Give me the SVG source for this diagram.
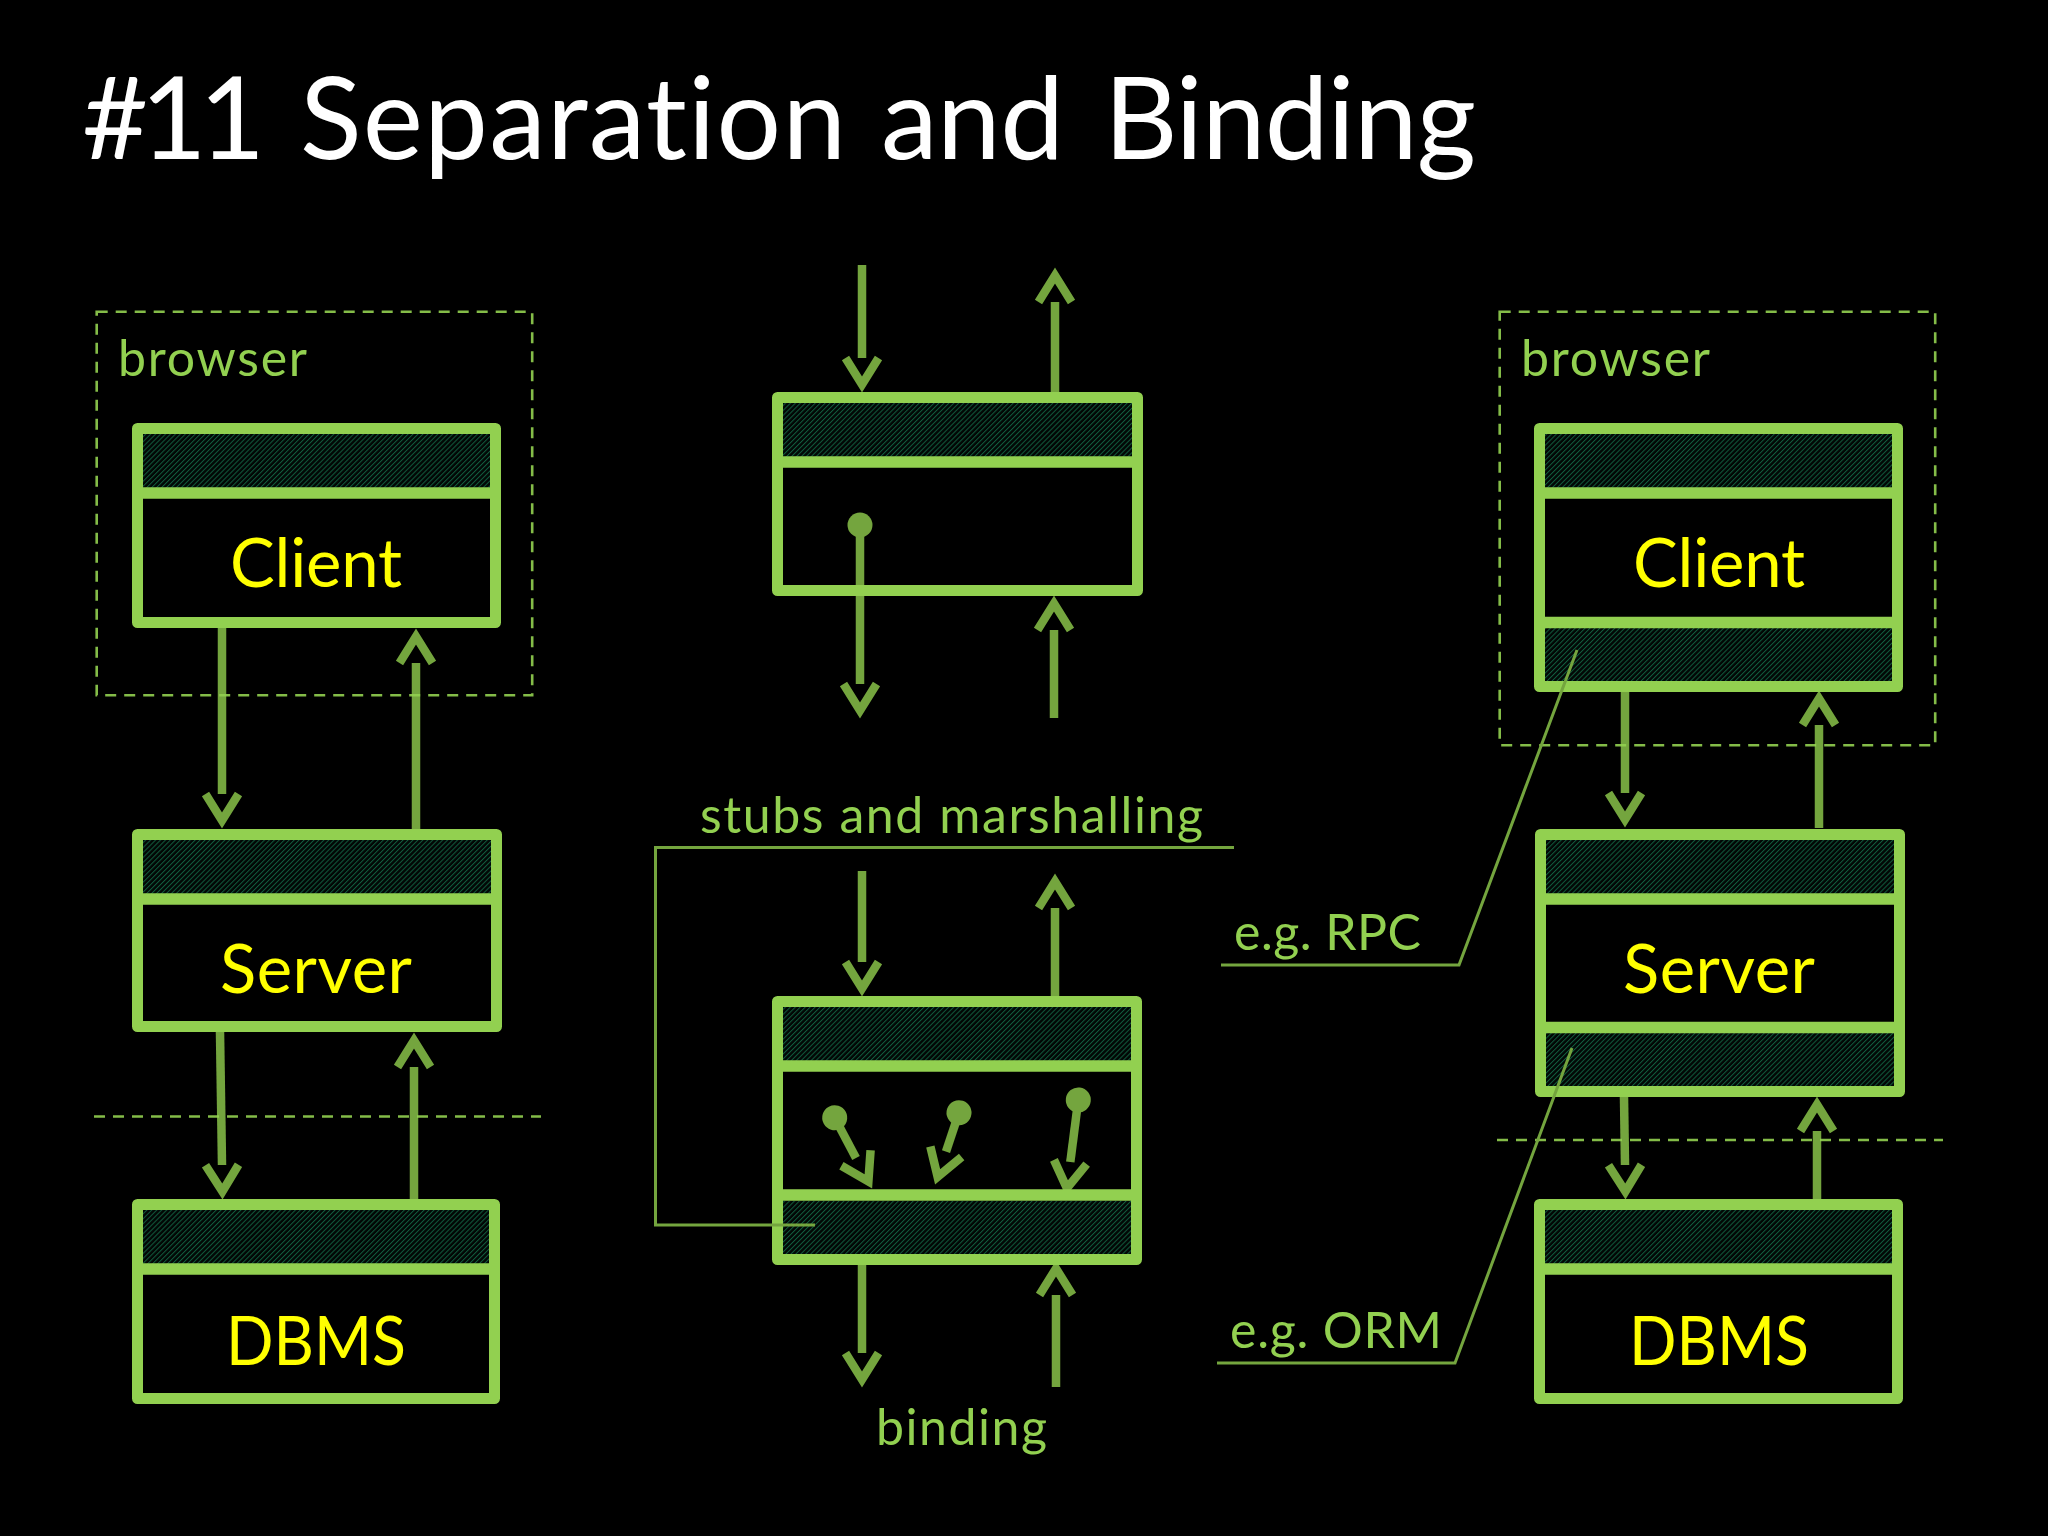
<svg xmlns="http://www.w3.org/2000/svg" width="2048" height="1536" viewBox="0 0 2048 1536">
<style>
text{font-family:Lato,"Liberation Sans",sans-serif;font-variant-ligatures:none}
.title{fill:#fff;font-size:114px}
.name{fill:#ff0;font-size:67px;text-anchor:middle}
.lab{fill:#92d050;font-size:50px}
.box{fill:none;stroke:#92d050;stroke-width:11;stroke-linejoin:round}
.div{stroke:#92d050;stroke-width:11.5}
.hatch{fill:url(#hatch)}
.dash{fill:none;stroke:#92d050;stroke-width:2.6;stroke-dasharray:11 8;opacity:.9}
.arrow{fill:none;stroke:#74a53e;stroke-width:8.5;marker-end:url(#head)}
.pin{marker-start:url(#dot)}
.leader{fill:none;stroke:#74a53e;stroke-width:3}
</style>
<defs>
<pattern id="hatch" patternUnits="userSpaceOnUse" width="3.5" height="3.5" patternTransform="rotate(-45)">
<rect width="3.5" height="3.5" fill="#020705"/>
<rect width="3.5" height="1" fill="#115c3e"/>
</pattern>
<marker id="head" markerUnits="userSpaceOnUse" markerWidth="80" markerHeight="80" refX="0" refY="0" viewBox="-40 -40 80 80" orient="auto">
<path d="M0,-16.5 L26.5,0 L0,16.5" fill="none" stroke="#74a53e" stroke-width="8.5"/>
</marker>
<marker id="dot" markerUnits="userSpaceOnUse" markerWidth="30" markerHeight="30" refX="15" refY="15" orient="auto">
<circle cx="15" cy="15" r="12.5" fill="#74a53e"/>
</marker>
</defs>
<rect width="2048" height="1536" fill="#000"/>
<text class="title" y="159"><tspan x="82" textLength="183">#11</tspan> <tspan x="300" textLength="546">Separation</tspan> <tspan x="881" textLength="183">and</tspan> <tspan x="1104" textLength="372">Binding</tspan></text>

<g id="connectors">
<path class="arrow" d="M222,628V794"/>
<path class="arrow" d="M416,829V663"/>
<path class="arrow" d="M220,1032L222,1165"/>
<path class="arrow" d="M414,1199V1067"/>
<path class="arrow" d="M862,265V358"/>
<path class="arrow" d="M1055,392V302"/>
<path class="arrow pin" d="M860,525V684"/>
<path class="arrow" d="M1054,718V630"/>
<path class="arrow" d="M862,871V962"/>
<path class="arrow" d="M1055,996V908"/>
<path class="arrow pin" d="M834.7,1117.7L856,1158"/>
<path class="arrow pin" d="M959,1112.7L946,1151.7"/>
<path class="arrow pin" d="M1078.3,1100L1070.3,1162"/>
<path class="arrow" d="M862,1265V1353"/>
<path class="arrow" d="M1056,1387V1295"/>
<path class="arrow" d="M1625,692V793"/>
<path class="arrow" d="M1819,828V725"/>
<path class="arrow" d="M1624,1097L1625,1165"/>
<path class="arrow" d="M1817,1199V1131"/>
</g>

<g id="browser-left"><rect class="dash" x="96.7" y="311.7" width="435.5" height="383.5"/><text class="lab" x="118" y="376" textLength="189">browser</text></g>
<g id="browser-right"><rect class="dash" x="1499.7" y="311.7" width="435.5" height="433.5"/><text class="lab" x="1521" y="376" textLength="189">browser</text></g>
<path id="tier-left" class="dash" d="M94,1116.5H541"/>
<path id="tier-right" class="dash" d="M1497,1140H1943"/>

<g id="client-left">
<rect class="hatch" x="142" y="434" width="348" height="54"/>
<rect class="box" x="137.5" y="428.5" width="358" height="194"/>
<path class="div" d="M132,493H501"/>
<text class="name" x="316" y="587" textLength="172">Client</text>
</g>
<g id="server-left">
<rect class="hatch" x="142" y="840" width="350" height="54"/>
<rect class="box" x="137.5" y="834.5" width="359" height="192"/>
<path class="div" d="M132,899H502"/>
<text class="name" x="316" y="993" textLength="192">Server</text>
</g>
<g id="dbms-left">
<rect class="hatch" x="142" y="1210" width="348" height="54"/>
<rect class="box" x="137.5" y="1204.5" width="357" height="194"/>
<path class="div" d="M132,1269H500"/>
<text class="name" x="316" y="1365" textLength="180" lengthAdjust="spacingAndGlyphs">DBMS</text>
</g>
<g id="stub-top">
<rect class="hatch" x="782" y="403" width="350" height="54"/>
<rect class="box" x="777.5" y="397.5" width="360" height="193"/>
<path class="div" d="M772,462H1143"/>
</g>
<g id="stub-bottom">
<rect class="hatch" x="782" y="1007" width="350" height="54"/>
<rect class="hatch" x="782" y="1201" width="350" height="54"/>
<rect class="box" x="777.5" y="1001.5" width="359" height="258"/>
<path class="div" d="M772,1066H1142M772,1195H1142"/>
</g>
<g id="client-right">
<rect class="hatch" x="1544" y="434" width="349" height="54"/>
<rect class="hatch" x="1544" y="628" width="349" height="54"/>
<rect class="box" x="1539.5" y="428.5" width="358" height="258"/>
<path class="div" d="M1534,493H1903M1534,622.5H1903"/>
<text class="name" x="1719" y="587" textLength="172">Client</text>
</g>
<g id="server-right">
<rect class="hatch" x="1545" y="840" width="350" height="54"/>
<rect class="hatch" x="1545" y="1033" width="350" height="54"/>
<rect class="box" x="1540.5" y="834.5" width="359" height="257"/>
<path class="div" d="M1535,899H1905M1535,1027.5H1905"/>
<text class="name" x="1719" y="993" textLength="192">Server</text>
</g>
<g id="dbms-right">
<rect class="hatch" x="1544" y="1210" width="349" height="54"/>
<rect class="box" x="1539.5" y="1204.5" width="358" height="194"/>
<path class="div" d="M1534,1269H1903"/>
<text class="name" x="1719" y="1365" textLength="180" lengthAdjust="spacingAndGlyphs">DBMS</text>
</g>

<g id="callouts">
<path class="leader" d="M1234,847.5H655.5V1225H815"/>
<path class="leader" d="M1221,965H1459L1577,650"/>
<path class="leader" d="M1217,1363H1455L1572,1048"/>
<text class="lab" x="700" y="833" textLength="503">stubs and marshalling</text>
<text class="lab" x="1234" y="950" textLength="187">e.g. RPC</text>
<text class="lab" x="1230" y="1348" textLength="212">e.g. ORM</text>
<text class="lab" x="876" y="1445" textLength="171">binding</text>
</g>
</svg>
